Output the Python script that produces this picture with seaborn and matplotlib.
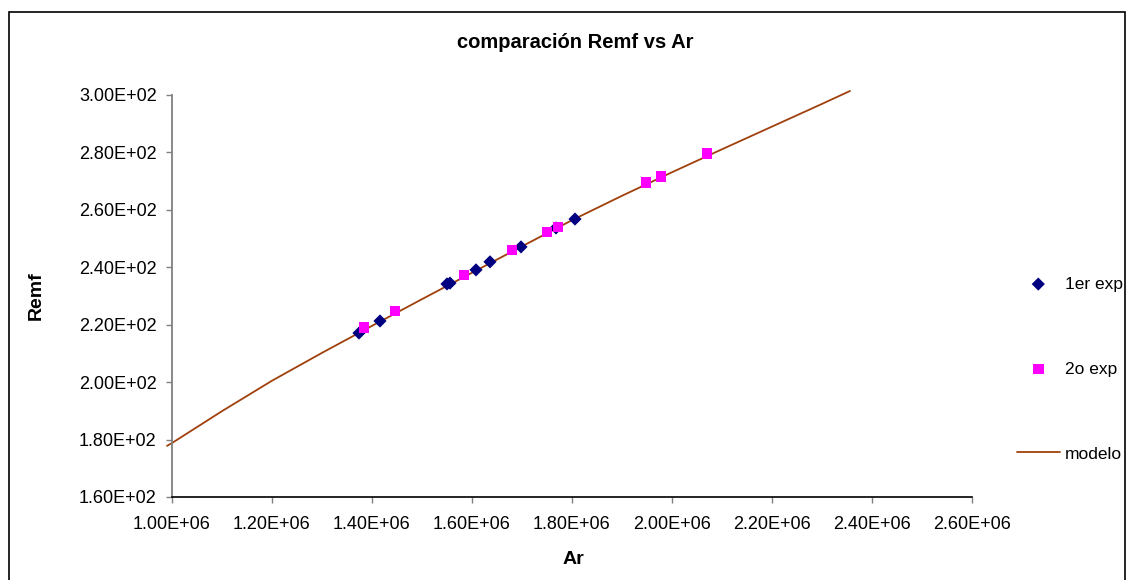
import matplotlib
matplotlib.use("Agg")
import matplotlib.pyplot as plt
import seaborn as sns
import pandas as pd
from matplotlib.patches import Rectangle
from matplotlib.ticker import FuncFormatter

# Data
ar_exp1 = [1.374e6, 1.416e6, 1.550e6, 1.556e6, 1.608e6, 1.636e6, 1.698e6, 1.768e6, 1.806e6]
remf_exp1 = [217.1, 221.3, 234.2, 234.5, 239.1, 241.9, 247.1, 253.7, 256.8]
ar_exp2 = [1.384e6, 1.446e6, 1.584e6, 1.680e6, 1.750e6, 1.772e6, 1.948e6, 1.978e6, 2.070e6]
remf_exp2 = [218.9, 224.8, 237.3, 246.0, 252.3, 254.0, 269.4, 271.5, 279.5]
ar_model = [0.99e6, 1.0e6, 1.1e6, 1.2e6, 1.3e6, 1.4e6, 1.5e6, 1.6e6, 1.7e6, 1.8e6,
            1.9e6, 2.0e6, 2.1e6, 2.2e6, 2.3e6, 2.356e6]
remf_model = [177.8, 178.8, 189.9, 200.5, 210.2, 219.6, 228.9, 238.1, 247.3, 256.4,
              264.9, 273.1, 281.1, 289.0, 296.9, 301.4]

x_ticks = [1.0e6, 1.2e6, 1.4e6, 1.6e6, 1.8e6, 2.0e6, 2.2e6, 2.4e6, 2.6e6]
y_ticks = [160, 180, 200, 220, 240, 260, 280, 300]

sns.set_theme(style="white")
plt.rcParams['font.family'] = ['Liberation Sans', 'DejaVu Sans']
plt.rcParams['text.color'] = 'black'
plt.rcParams['axes.labelcolor'] = 'black'

W, H = 1128, 580
fig = plt.figure(figsize=(W / 100, H / 100), dpi=100)
ax = fig.add_axes([172 / W, 83 / H, 800 / W, 402 / H])

# chart-area border
fig.patches.append(Rectangle((9 / W, -0.01), (W - 12) / W, (H - 12) / H + 0.01,
                             transform=fig.transFigure, fill=False,
                             edgecolor='black', linewidth=1.2))

df_model = pd.DataFrame({'Ar': ar_model, 'Remf': remf_model})
df1 = pd.DataFrame({'Ar': ar_exp1, 'Remf': remf_exp1})
df2 = pd.DataFrame({'Ar': ar_exp2, 'Remf': remf_exp2})

sns.scatterplot(data=df1, x='Ar', y='Remf', ax=ax, marker='D', s=45, color='#000080',
                edgecolor='none', label='1er exp', zorder=3)
sns.scatterplot(data=df2, x='Ar', y='Remf', ax=ax, marker='s', s=60, color='#FF00FF',
                edgecolor='none', label='2o exp', zorder=4)
sns.lineplot(data=df_model, x='Ar', y='Remf', ax=ax, color='#A0400C', linewidth=1.3,
             label='modelo', sort=False, zorder=2)
for ln in ax.lines:
    ln.set_clip_on(False)

ax.set_xlim(1.0e6, 2.6e6)
ax.set_ylim(160, 300)
ax.set_xticks(x_ticks)
ax.set_yticks(y_ticks)
ax.xaxis.set_major_formatter(FuncFormatter(lambda v, p: f"{v:.2E}"))
ax.yaxis.set_major_formatter(FuncFormatter(lambda v, p: f"{v:.2E}"))
ax.tick_params(axis='both', which='major', direction='out', length=4, width=1,
               labelsize=13, labelcolor='black', color='#808080',
               left=True, bottom=True)
ax.tick_params(axis='x', pad=9.5)
ax.tick_params(axis='y', pad=7)

for s in ['top', 'right']:
    ax.spines[s].set_visible(False)
ax.spines['left'].set_color('#808080')
ax.spines['left'].set_linewidth(1.3)
ax.spines['bottom'].set_color('black')
ax.spines['bottom'].set_linewidth(1.2)

ax.set_xlabel('Ar', fontsize=14, fontweight='bold', color='black')
ax.set_ylabel('Remf', fontsize=14, fontweight='bold', color='black')
ax.xaxis.set_label_coords((573 - 172) / 800, (497 - 551) / 402)
ax.yaxis.set_label_coords((45 - 172) / 800, (497 - 296) / 402)
fig.text(575 / W, 1 - 42 / H, 'comparación Remf vs Ar', ha='center', va='center',
         fontsize=14.5, fontweight='bold', color='black')

leg = ax.legend(loc='center left', bbox_to_anchor=(1017 / W, 1 - 369 / H),
                bbox_transform=fig.transFigure, frameon=False, fontsize=12.5,
                labelspacing=4.02, handlelength=2.45, handletextpad=0.3,
                borderpad=0, borderaxespad=0)
for t in leg.get_texts():
    t.set_color('black')

fig.savefig('out.png', dpi=100)
